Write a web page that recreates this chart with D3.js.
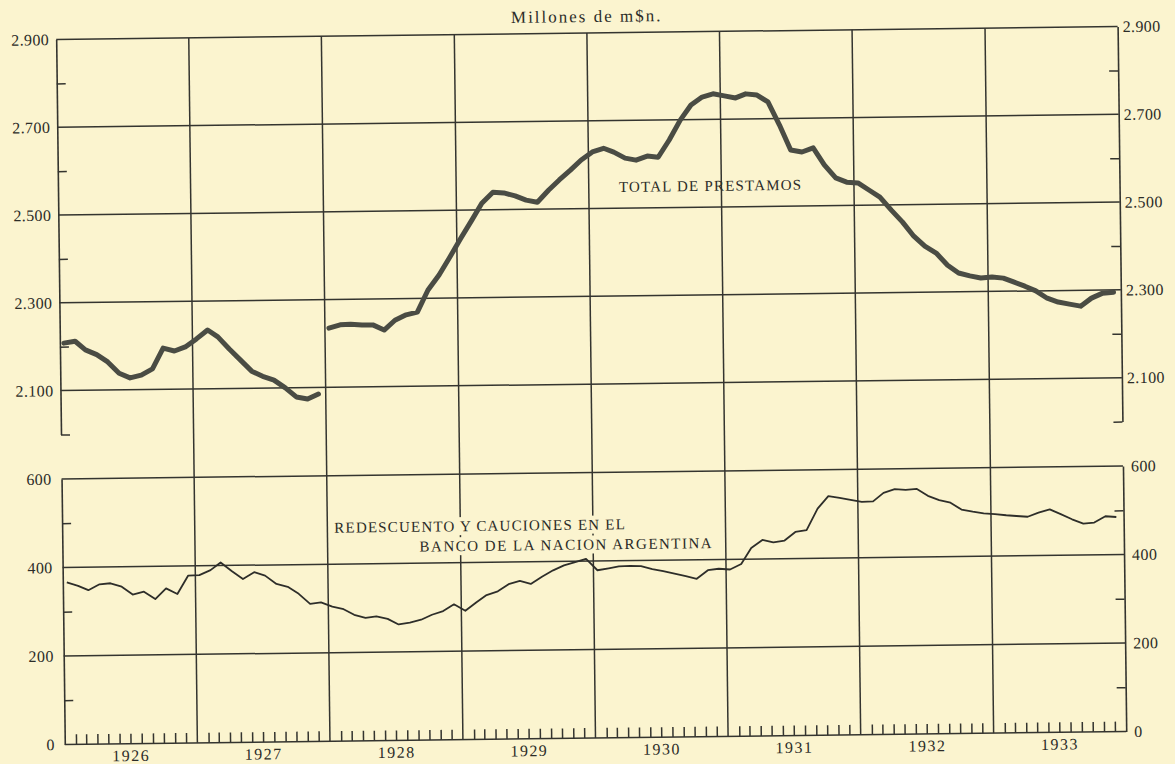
<!DOCTYPE html>
<html>
<head>
<meta charset="utf-8">
<script src="https://d3js.org/d3.v7.min.js"></script>
<style>
  body { margin: 0; background: #fbf4cf; }
  text { font-family: "Liberation Serif", "DejaVu Serif", serif; fill: #2c2c28; }
</style>
</head>
<body>
<div id="chart"></div>
<script>

// monthly figures, millones de m$n
var years = [1926, 1927, 1928, 1929, 1930, 1931, 1932, 1933];

// total de prestamos (series broken between 1927 and 1928)
var loans1926_27 = [2208, 2212, 2192, 2181, 2164, 2138, 2127, 2133, 2147, 2194, 2187, 2196,
                    2214, 2234, 2218, 2190, 2165, 2139, 2127, 2118, 2100, 2079, 2074, 2085];
var loans1928_33 = [2235, 2242, 2243, 2241, 2241, 2229, 2251, 2263, 2269, 2319, 2353, 2393,
                    2436, 2477, 2515, 2540, 2538, 2531, 2521, 2516, 2543, 2566, 2588, 2611,
                    2629, 2637, 2628, 2614, 2609, 2618, 2615, 2654, 2699, 2733, 2751, 2758,
                    2753, 2748, 2757, 2754, 2738, 2685, 2628, 2623, 2632, 2593, 2563, 2553,
                    2551, 2534, 2518, 2488, 2461, 2428, 2405, 2389, 2361, 2343, 2336, 2331,
                    2333, 2330, 2321, 2311, 2300, 2283, 2274, 2269, 2264, 2282, 2293, 2295];

// redescuento y cauciones en el Banco de la Nacion
var rediscounts = [366, 358, 348, 361, 363, 355, 337, 343, 326, 350, 337, 378,
                   379, 390, 407, 387, 369, 384, 376, 357, 350, 334, 311, 314,
                   304, 298, 285, 278, 281, 275, 262, 266, 272, 283, 291, 306,
                   291, 310, 326, 334, 350, 357, 350, 366, 380, 391, 398, 405,
                   379, 383, 387, 388, 387, 380, 375, 369, 363, 357, 376, 379,
                   377, 389, 425, 443, 437, 441, 460, 464, 512, 540, 536, 531,
                   526, 527, 546, 554, 552, 554, 538, 528, 522, 506, 501, 497,
                   495, 492, 490, 488, 497, 504, 493, 481, 471, 473, 487, 485];

var topTicks = [2100, 2300, 2500, 2700, 2900];
var topMinor = [2000, 2200, 2400, 2600, 2800];
var bottomTicks = [0, 200, 400, 600];
var bottomMinor = [100, 300, 500];

var width = 1175, height = 764;
var ink = "#34342f";

var svg = d3.select("#chart").append("svg")
    .attr("width", width)
    .attr("height", height)
    .style("background", "#fbf4cf");

// the printed page sits a little crooked
var g = svg.append("g").attr("transform", "rotate(-0.7,592,390)");

var x = d3.scaleTime()
    .domain([new Date(1926, 0, 1), new Date(1934, 0, 1)])
    .range([60.5, 1122]);
var yTop = d3.scaleLinear().domain([2000, 2900]).range([428, 33]);
var yBot = d3.scaleLinear().domain([0, 600]).range([738, 472.5]);

var fmt = d3.formatLocale({decimal: ",", thousands: ".", grouping: [3], currency: ["", ""]}).format(",");

function month(start, i) { return new Date(start, i, 12); }

var x0 = x.range()[0], x1 = x.range()[1];

// horizontal rules
g.selectAll(".hTop").data(topTicks).enter().append("line")
    .attr("x1", x0).attr("x2", x1)
    .attr("y1", function(d) { return yTop(d); })
    .attr("y2", function(d) { return yTop(d); })
    .attr("stroke", ink).attr("stroke-width", 1.5);
g.selectAll(".hBot").data(bottomTicks).enter().append("line")
    .attr("x1", x0).attr("x2", x1)
    .attr("y1", function(d) { return yBot(d); })
    .attr("y2", function(d) { return yBot(d); })
    .attr("stroke", ink).attr("stroke-width", 1.5);

// year dividers run through both panels
g.selectAll(".vYear").data(years.slice(1)).enter().append("line")
    .attr("x1", function(d) { return x(new Date(d, 0, 1)); })
    .attr("x2", function(d) { return x(new Date(d, 0, 1)); })
    .attr("y1", yTop(2900)).attr("y2", yBot(0))
    .attr("stroke", ink).attr("stroke-width", 1.5);

function styleAxis(sel, keepDomain) {
  sel.selectAll(".tick line").attr("stroke", ink).attr("stroke-width", 1.5);
  sel.selectAll("text").style("font-size", "16px").style("letter-spacing", "0.4px").attr("fill", "#2c2c28");
  if (keepDomain) sel.select(".domain").attr("stroke", ink).attr("stroke-width", 1.6);
  else sel.select(".domain").remove();
}

// left and right value axes
g.append("g").attr("transform", "translate(" + x0 + ",0)")
    .call(d3.axisLeft(yTop).tickValues(topTicks).tickSize(0).tickPadding(7).tickFormat(fmt))
    .call(styleAxis, true);
g.append("g").attr("transform", "translate(" + x0 + ",0)")
    .call(d3.axisRight(yTop).tickValues(topMinor).tickSize(9).tickFormat(""))
    .call(styleAxis, false);
g.append("g").attr("transform", "translate(" + x1 + ",0)")
    .call(d3.axisRight(yTop).tickValues(topTicks).tickSize(0).tickPadding(5).tickFormat(fmt))
    .call(styleAxis, true);
g.append("g").attr("transform", "translate(" + x1 + ",0)")
    .call(d3.axisLeft(yTop).tickValues(topMinor).tickSize(9).tickFormat(""))
    .call(styleAxis, false);

g.append("g").attr("transform", "translate(" + x0 + ",0)")
    .call(d3.axisLeft(yBot).tickValues(bottomTicks).tickSize(0).tickPadding(10).tickFormat(fmt))
    .call(styleAxis, true);
g.append("g").attr("transform", "translate(" + x0 + ",0)")
    .call(d3.axisRight(yBot).tickValues(bottomMinor).tickSize(9).tickFormat(""))
    .call(styleAxis, false);
g.append("g").attr("transform", "translate(" + x1 + ",0)")
    .call(d3.axisRight(yBot).tickValues(bottomTicks).tickSize(0).tickPadding(8).tickFormat(fmt))
    .call(styleAxis, true);
g.append("g").attr("transform", "translate(" + x1 + ",0)")
    .call(d3.axisLeft(yBot).tickValues(bottomMinor).tickSize(9).tickFormat(""))
    .call(styleAxis, false);

// month ticks on the base line
var months = d3.timeMonth.range(new Date(1926, 0, 1), new Date(1934, 0, 1))
    .filter(function(d) { return d.getMonth() !== 0; });
g.append("g").attr("transform", "translate(0," + yBot(0) + ")")
    .call(d3.axisTop(x).tickValues(months).tickSize(10).tickFormat(""))
    .call(styleAxis, false);

// year labels
g.append("g").attr("transform", "translate(0," + yBot(0) + ")")
    .call(d3.axisBottom(x).tickValues(years.map(function(y) { return new Date(y, 6, 1); }))
        .tickSize(0).tickPadding(6).tickFormat(d3.timeFormat("%Y")))
    .call(styleAxis, false)
    .selectAll("text").style("letter-spacing", "1.5px");

// series
var line = d3.line().curve(d3.curveLinear);

g.append("path")
    .attr("d", line(loans1926_27.map(function(v, i) { return [x(month(1926, i)), yTop(v)]; })))
    .attr("fill", "none").attr("stroke", "#4a4c44").attr("stroke-width", 5)
    .attr("stroke-linejoin", "round").attr("stroke-linecap", "round");
g.append("path")
    .attr("d", line(loans1928_33.map(function(v, i) { return [x(month(1928, i)), yTop(v)]; })))
    .attr("fill", "none").attr("stroke", "#4a4c44").attr("stroke-width", 5)
    .attr("stroke-linejoin", "round").attr("stroke-linecap", "round");
g.append("path")
    .attr("d", line(rediscounts.map(function(v, i) { return [x(month(1926, i)), yBot(v)]; })))
    .attr("fill", "none").attr("stroke", "#2e2e2a").attr("stroke-width", 1.8)
    .attr("stroke-linejoin", "round");

// labels
function label(txt, px, py, size, spacing, masked) {
  var t = g.append("text")
      .attr("x", px).attr("y", py)
      .style("font-size", size + "px")
      .style("letter-spacing", spacing + "px")
      .text(txt);
  if (masked) {
    var b = t.node().getBBox();
    g.insert("rect", function() { return t.node(); })
        .attr("x", b.x - 2).attr("y", b.y - 1)
        .attr("width", b.width + 4).attr("height", b.height + 2)
        .attr("fill", "#fbf4cf");
  }
  return t;
}

label("Millones de m$n.", x(new Date(1930, 0, 1)), yTop(2900) - 11, 17, 2, false)
    .attr("text-anchor", "middle");
label("TOTAL DE PRESTAMOS", x(new Date(1930, 2, 25)), yTop(2537), 15, 1.2, false);
label("REDESCUENTO Y CAUCIONES EN EL", x(new Date(1928, 0, 20)), yBot(471), 15, 1.2, true);
label("BANCO DE LA NACION ARGENTINA", x(new Date(1928, 8, 10)), yBot(426), 15, 1.5, true);

</script>
</body>
</html>
